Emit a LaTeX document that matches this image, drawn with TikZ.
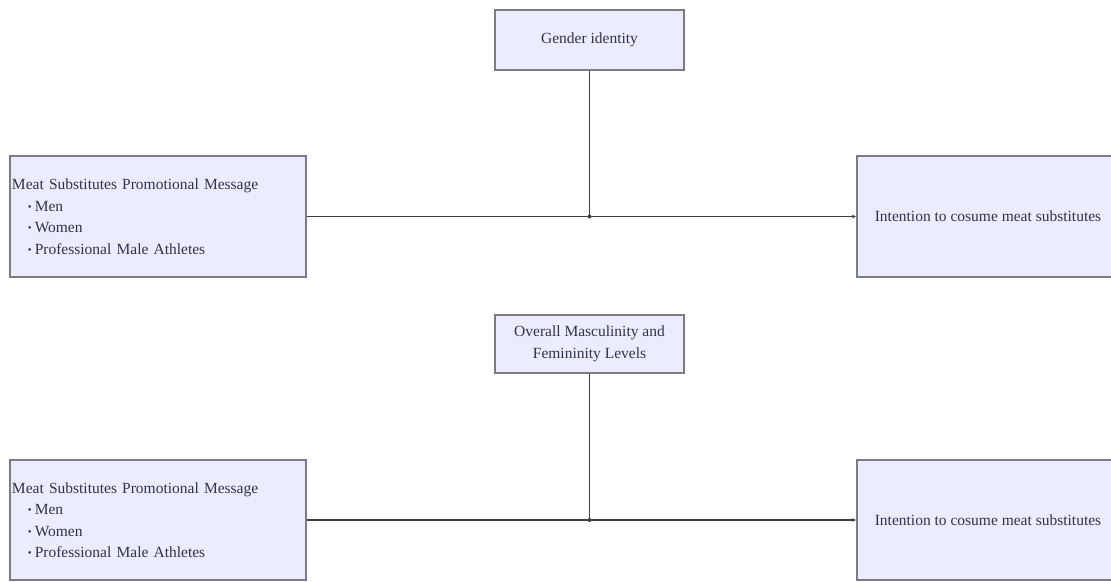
\documentclass[tikz,border=0pt]{standalone}
\usepackage{fontspec}
\setmainfont{Liberation Serif}
\usetikzlibrary{arrows.meta}

\definecolor{boxfill}{HTML}{ECECFF}
\definecolor{boxline}{HTML}{7C7C84}
\definecolor{boxtext}{HTML}{333344}

\newcommand{\itembul}{\hspace*{16pt}\raisebox{0.1ex}{\scalebox{0.7}{\textbullet}}\hspace{3pt}}

\begin{document}
\begin{tikzpicture}[x=1pt,y=-1pt,
    box/.style={draw=boxline, fill=boxfill, line width=1.4pt, text=boxtext,
        font=\fontsize{15.5}{21.5}\selectfont, inner sep=0pt},
    link/.style={draw=black!75, line width=1.5pt}]

\useasboundingbox (0,0) rectangle (1111,581);
\clip (0,0) rectangle (1111,581);

% upper model
\node (gender) [box,
    minimum width=189pt,
    minimum height=60pt
] at (589.5,40) {Gender identity};

\node (msgA) [box,
    minimum width=296pt,
    minimum height=121pt,
    text width=292pt,
    align=left
] at (158,216.5) {Meat Substitutes Promotional Message\\
    \itembul Men\\ \itembul Women\\ \itembul Professional Male Athletes};

\node (intentA) [box,
    minimum width=262pt,
    minimum height=121pt
] at (988,216.5) {Intention to cosume meat substitutes};

% lower model
\node (levels) [box,
    minimum width=189pt,
    minimum height=58pt,
    align=center
] at (589.5,344) {Overall Masculinity and\\Femininity Levels};

\node (msgB) [box,
    minimum width=296pt,
    minimum height=120pt,
    text width=292pt,
    align=left
] at (158,520) {Meat Substitutes Promotional Message\\
    \itembul Men\\ \itembul Women\\ \itembul Professional Male Athletes};

\node (intentB) [box,
    minimum width=262pt,
    minimum height=120pt
] at (988,520) {Intention to cosume meat substitutes};

\coordinate (jA) at (gender.south |- msgA.east);
\coordinate (jB) at (levels.south |- msgB.east);

\draw [link,-{Latex[length=4pt,width=4pt]}] (msgA) -- (intentA);
\draw [link] (gender) -- (jA);
\fill [black!75] (jA) circle (2pt);

\draw [link,-{Latex[length=4pt,width=4pt]}] (msgB) -- (intentB);
\draw [link] (levels) -- (jB);
\fill [black!75] (jB) circle (2pt);

\end{tikzpicture}
\end{document}
